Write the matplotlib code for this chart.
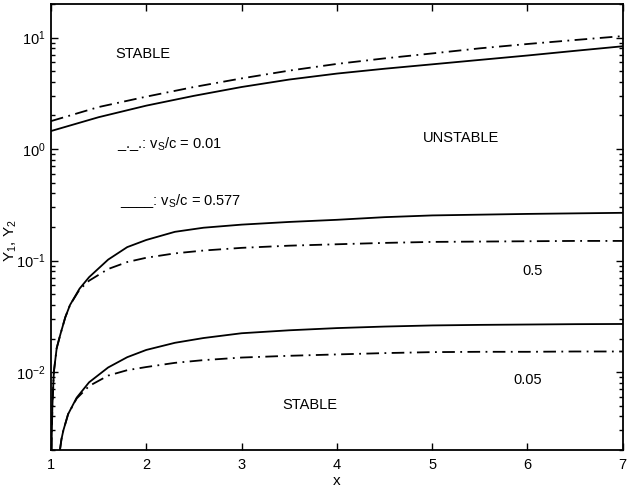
import matplotlib
matplotlib.use("Agg")
import matplotlib.pyplot as plt
from matplotlib.ticker import LogLocator, FixedLocator, NullFormatter

plt.rcParams['font.family'] = ['Liberation Sans', 'DejaVu Sans']
plt.rcParams['mathtext.fontset'] = 'custom'
plt.rcParams['mathtext.rm'] = 'Liberation Sans'
plt.rcParams['mathtext.it'] = 'Liberation Sans'
plt.rcParams['mathtext.default'] = 'regular'

# ---- data ----
# upper pair (boundary between STABLE and UNSTABLE)
top_x = [1.0, 1.5, 2.0, 2.5, 3.0, 3.5, 4.0, 4.5, 5.0, 5.5, 6.0, 6.5, 7.0]
top_solid = [1.45, 1.93, 2.45, 3.0, 3.6, 4.2, 4.75, 5.25, 5.75, 6.3, 6.9, 7.6, 8.35]
top_dash = [1.78, 2.38, 2.95, 3.6, 4.3, 5.05, 5.8, 6.5, 7.2, 8.0, 8.75, 9.5, 10.3]

# middle pair (label 0.5)
mid_solid_x = [1.005, 1.015, 1.03, 1.06, 1.1, 1.15, 1.2, 1.3, 1.4, 1.6, 1.8, 2.0,
               2.3, 2.6, 3.0, 3.5, 4.0, 4.5, 5.0, 5.5, 6.0, 6.5, 7.0]
mid_solid = [0.002, 0.005, 0.01, 0.0164, 0.022, 0.031, 0.04, 0.056, 0.071, 0.102,
             0.132, 0.153, 0.181, 0.197, 0.21, 0.222, 0.232, 0.245, 0.254, 0.258,
             0.262, 0.265, 0.268]
mid_dash_x = [1.005, 1.015, 1.03, 1.06, 1.1, 1.15, 1.2, 1.3, 1.4, 1.6, 1.8, 2.0,
              2.3, 2.6, 3.0, 3.5, 4.0, 4.5, 5.0, 5.5, 6.0, 6.5, 7.0]
mid_dash = [0.002, 0.005, 0.01, 0.0164, 0.022, 0.031, 0.04, 0.055, 0.066, 0.084,
            0.097, 0.106, 0.116, 0.123, 0.13, 0.136, 0.14, 0.144, 0.147, 0.148,
            0.149, 0.15, 0.15]

# lower pair (label 0.05)
low_solid_x = [1.094, 1.11, 1.13, 1.18, 1.27, 1.4, 1.6, 1.8, 2.0, 2.3, 2.6, 3.0,
               3.5, 4.0, 4.5, 5.0, 5.5, 6.0, 6.5, 7.0]
low_solid = [0.002, 0.0025, 0.003, 0.0042, 0.0059, 0.0081, 0.011, 0.0136, 0.0158,
             0.0183, 0.0202, 0.0223, 0.0237, 0.0248, 0.0256, 0.0262, 0.0265, 0.0267,
             0.0269, 0.027]
low_dash_x = [1.094, 1.11, 1.13, 1.18, 1.27, 1.4, 1.6, 1.8, 2.0, 2.3, 2.6, 3.0,
              3.5, 4.0, 4.5, 5.0, 5.5, 6.0, 6.5, 7.0]
low_dash = [0.002, 0.0025, 0.003, 0.0042, 0.0058, 0.0075, 0.0093, 0.0104, 0.0111,
            0.0121, 0.0128, 0.0135, 0.014, 0.0144, 0.0148, 0.0151, 0.0152, 0.0152,
            0.0153, 0.0153]

x_ticks = [1, 2, 3, 4, 5, 6, 7]

# ---- figure ----
fig = plt.figure(figsize=(6.27, 4.94), dpi=100)
ax = fig.add_axes([0.0813, 0.089, 0.912, 0.903])

dash_style = (0, (7, 3, 1, 3))
lw = 1.3
ax.plot(top_x, top_solid, color='black', lw=lw, ls='-')
ax.plot(top_x, top_dash, color='black', lw=lw, ls=dash_style)
ax.plot(mid_solid_x, mid_solid, color='black', lw=lw, ls='-')
ax.plot(mid_dash_x, mid_dash, color='black', lw=lw, ls=dash_style)
ax.plot(low_solid_x, low_solid, color='black', lw=lw, ls='-')
ax.plot(low_dash_x, low_dash, color='black', lw=lw, ls=dash_style)

ax.set_yscale('log')
ax.set_xlim(1, 7)
ax.set_ylim(0.002, 20)
ax.xaxis.set_major_locator(FixedLocator(x_ticks))
ax.set_xticklabels([str(t) for t in x_ticks])
ax.yaxis.set_major_locator(LogLocator(base=10, numticks=10))
ax.yaxis.set_minor_locator(LogLocator(base=10, subs=range(2, 10), numticks=20))
ax.yaxis.set_minor_formatter(NullFormatter())

ax.tick_params(which='both', direction='in', top=True, right=True, labelsize=10.5,
               width=1.0)
ax.tick_params(which='major', length=5, pad=6)
ax.tick_params(axis='y', which='major', pad=4)
ax.tick_params(which='minor', length=3)
for s in ax.spines.values():
    s.set_linewidth(1.3)

ax.set_xlabel('x', fontsize=11, labelpad=1)
ax.set_ylabel('Y$_1$, Y$_2$', fontsize=11)
ax.yaxis.set_label_coords(-0.056, 0.47)

fs = 10.5
ax.text(1.96, 7.05, 'STABLE', fontsize=fs, ha='center', va='center')
ax.text(5.30, 1.25, 'UNSTABLE', fontsize=fs, ha='center', va='center')
ax.text(1.69, 1.11, '_._.: v$_S$/c = 0.01', fontsize=fs, ha='left', va='center')
ax.text(1.72, 0.343, '____: v$_S$/c = 0.577', fontsize=fs, ha='left', va='center')
ax.text(6.05, 0.0798, '0.5', fontsize=fs, ha='center', va='center')
ax.text(6.0, 0.0085, '0.05', fontsize=fs, ha='center', va='center')
ax.text(3.72, 0.00507, 'STABLE', fontsize=fs, ha='center', va='center')

fig.savefig('out.png', dpi=100)
